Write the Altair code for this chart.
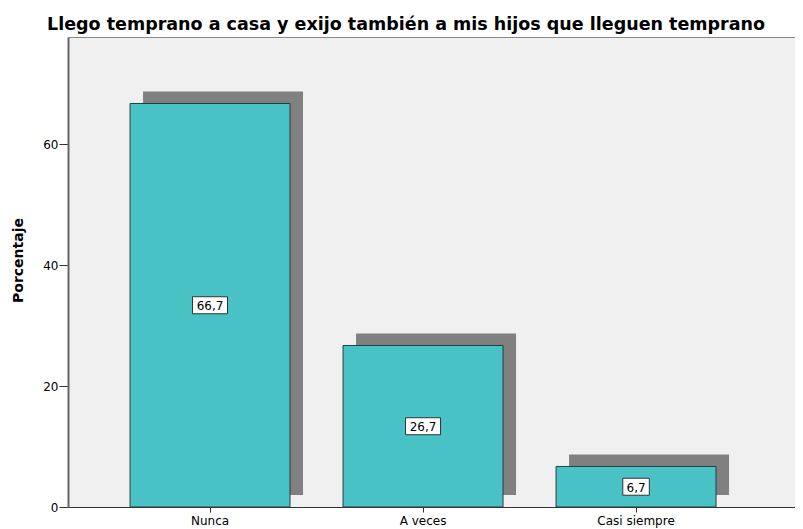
import altair as alt
import pandas as pd

categories = ["Nunca", "A veces", "Casi siempre"]
values = [66.7, 26.7, 6.7]
labels = ["66,7", "26,7", "6,7"]

df = pd.DataFrame({"cat": categories, "val": values, "lab": labels})

FONT = "DejaVu Sans"

xenc = alt.X(
    "cat:N",
    sort=categories,
    title=None,
    scale=alt.Scale(paddingInner=0.249, paddingOuter=0.331, align=0.44),
    axis=alt.Axis(
        labelAngle=0, labelFont=FONT, labelFontSize=12, labelColor="#000",
        tickSize=5, tickColor="#333", domainColor="#333", labelPadding=3,
    ),
)
yscale = alt.Scale(domain=[0, 77.69], nice=False, zero=True)

base = alt.Chart(df)

shadow = base.mark_bar(color="#808080", xOffset=13, x2Offset=13, yOffset=-12, y2Offset=-12).encode(
    x=xenc,
    y=alt.Y("val:Q", scale=yscale),
    y2=alt.datum(0),
)

bars = base.mark_bar(color="#48C2C5", stroke="#2b3b3b", strokeWidth=1).encode(
    x=xenc,
    y=alt.Y(
        "val:Q", scale=yscale, title="Porcentaje",
        axis=alt.Axis(
            values=[0, 20, 40, 60], grid=False, tickSize=9, tickColor="#333",
            labelFont=FONT, labelFontSize=12, labelColor="#000", labelPadding=1,
            domainColor="#666", domainWidth=2,
            titleFont=FONT, titleFontSize=14, titleFontWeight="bold", titleColor="#000",
            titleX=-50, titleY=223, titleAlign="center", titleBaseline="middle", titleAngle=270,
        ),
    ),
    y2=alt.datum(0),
)

boxes = base.transform_calculate(
    mid="datum.val / 2", boxw="8.5 * length(datum.lab) + 1"
).mark_bar(fill="white", stroke="#333", strokeWidth=1, yOffset=-8.5, y2Offset=8.5).encode(
    x=xenc,
    y=alt.Y("mid:Q", scale=yscale),
    y2="mid:Q",
    size=alt.Size("boxw:Q", scale=None, legend=None),
)

texts = base.transform_calculate(mid="datum.val / 2").mark_text(
    font=FONT, fontSize=12, color="#000", baseline="middle", dy=1
).encode(
    x=xenc,
    y=alt.Y("mid:Q", scale=yscale),
    text="lab:N",
)

chart = alt.layer(shadow, bars, boxes, texts).properties(
    width=727,
    height=470,
    autosize=alt.AutoSizeParams(type="none"),
    padding={"left": 60, "top": 29, "right": 0, "bottom": 22},
    background="white",
    title=alt.TitleParams(
        "Llego temprano a casa y exijo también a mis hijos que lleguen temprano",
        font=FONT, fontSize=17.5, fontWeight="bold", color="#000",
        anchor="middle", dx=-25.5, offset=4,
    ),
).configure_view(
    fill="#F0F0F0", stroke="#888", strokeWidth=1
)

chart.save("out.html", embed_options={"renderer": "svg", "actions": False})
